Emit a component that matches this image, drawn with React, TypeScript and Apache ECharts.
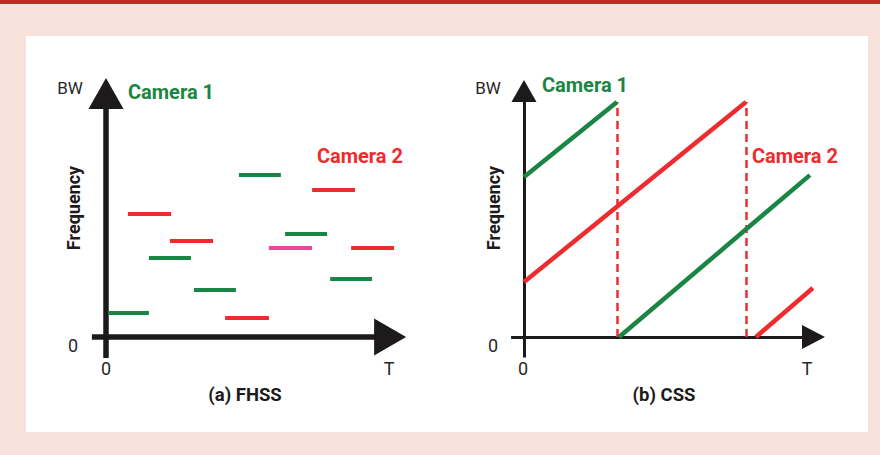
import React, { useEffect, useRef } from "react";
import * as echarts from "echarts";

// FHSS hop segments: [start, end, frequency]
const fhssCamera1 = [
  [0.07, 1.43, 0.93],
  [1.43, 2.83, 3.05],
  [2.93, 4.33, 1.81],
  [4.43, 5.83, 6.25],
  [5.97, 7.37, 3.98],
  [7.47, 8.87, 2.24],
];
const fhssCamera2 = [
  [0.73, 2.17, 4.75],
  [2.13, 3.57, 3.71],
  [3.97, 5.43, 0.73],
  [5.43, 6.87, 3.44],
  [6.87, 8.3, 5.68],
  [8.17, 9.6, 3.44],
];
const fhssCollision = [3]; // index of Camera 2 hop that overlaps (pink)

// CSS chirps: [x0, y0, x1, y1]
const cssCamera1 = [
  [0, 6.23, 3.1, 9.14],
  [3.17, 0, 9.53, 6.3],
];
const cssCamera2 = [
  [0, 2.14, 7.4, 9.14],
  [7.73, 0, 9.63, 1.91],
];
const cssBoundaries = [3.1, 7.4];
const cssTop = 9.14;

const GREEN = "#1b8544";
const RED = "#ee2b2e";
const PINK = "#e8479a";
const INK = "#1c1a1a";
const FONT = "Roboto";

export default function App() {
  const ref = useRef<HTMLDivElement>(null);
  useEffect(() => {
    if (!ref.current) return;
    const chart = echarts.init(ref.current, null, { renderer: "svg" });

    const seg = (s: number[], color: string, w: number) => ({
      coords: [
        [s[0], s[2]],
        [s[1], s[2]],
      ],
      lineStyle: { color, width: w, opacity: 1 },
    });
    const chirp = (s: number[], color: string) => ({
      coords: [
        [s[0], s[1]],
        [s[2], s[3]],
      ],
      lineStyle: { color, width: 4.5, opacity: 1 },
    });

    const text = (t: string, x: number, y: number, opts: any = {}) => ({
      type: "text",
      x,
      y,
      rotation: opts.rotation || 0,
      style: {
        text: t,
        fill: opts.color || "#2a2627",
        font: `${opts.weight || 400} ${opts.size || 17}px ${FONT}`,
        textAlign: opts.align || "center",
        textVerticalAlign: "middle",
      },
    });

    chart.setOption({
      animation: false,
      backgroundColor: "#f6e2da",
      grid: [
        { left: 76, top: 78, width: 330, height: 284.9 },
        { left: 494, top: 80, width: 330, height: 295.6 },
      ],
      xAxis: [
        { type: "value", gridIndex: 0, min: -1, max: 10, show: false },
        { type: "value", gridIndex: 1, min: -1, max: 10, show: false },
      ],
      yAxis: [
        { type: "value", gridIndex: 0, min: -1, max: 10, show: false },
        { type: "value", gridIndex: 1, min: -1.5, max: 10, show: false },
      ],
      graphic: [
        { type: "rect", shape: { x: 0, y: 0, width: 880, height: 4 }, style: { fill: "#c42a24" }, z: -10 },
        { type: "rect", shape: { x: 26, y: 36, width: 842, height: 396 }, style: { fill: "#ffffff" }, z: -10 },
        // left panel labels
        text("BW", 70, 88),
        text("0", 73, 345, { size: 18 }),
        text("0", 106, 368, { size: 18 }),
        text("T", 389, 368, { size: 18 }),
        text("Frequency", 73, 208, { rotation: Math.PI / 2, weight: 700, size: 18, color: INK }),
        text("Camera 1", 128, 92, { align: "left", weight: 700, size: 20, color: GREEN }),
        text("Camera 2", 403, 156, { align: "right", weight: 700, size: 20, color: RED }),
        text("(a) FHSS", 245, 395, { weight: 700, size: 18.5, color: INK }),
        // right panel labels
        text("BW", 488, 88),
        text("0", 493, 345, { size: 18 }),
        text("0", 523, 368, { size: 18 }),
        text("T", 807, 368, { size: 18 }),
        text("Frequency", 493, 208, { rotation: Math.PI / 2, weight: 700, size: 18, color: INK }),
        text("Camera 1", 542, 85, { align: "left", weight: 700, size: 20, color: GREEN }),
        text("Camera 2", 838, 156, { align: "right", weight: 700, size: 20, color: RED }),
        text("(b) CSS", 664, 395, { weight: 700, size: 18.5, color: INK }),
      ],
      series: [
        // left axes
        {
          type: "lines",
          coordinateSystem: "cartesian2d",
          xAxisIndex: 0,
          yAxisIndex: 0,
          silent: true,
          data: [
            { coords: [[0, -0.81], [0, 9.0]], lineStyle: { color: INK, width: 5.5, opacity: 1 } },
            { coords: [[-0.47, 0], [9.0, 0]], lineStyle: { color: INK, width: 5.5, opacity: 1 } },
          ],
        },
        {
          type: "scatter",
          xAxisIndex: 0,
          yAxisIndex: 0,
          silent: true,
          symbol: "triangle",
          itemStyle: { color: INK, opacity: 1 },
          data: [
            { value: [0, 9.4], symbolSize: [35, 31] },
            { value: [9.47, 0], symbolSize: [37, 32], symbolRotate: -90 },
          ],
        },
        // FHSS hops
        {
          type: "lines",
          coordinateSystem: "cartesian2d",
          xAxisIndex: 0,
          yAxisIndex: 0,
          silent: true,
          data: [
            ...fhssCamera1.map((s) => seg(s, GREEN, 4)),
            ...fhssCamera2.map((s, i) => seg(s, fhssCollision.includes(i) ? PINK : RED, 4)),
          ],
        },
        // right axes
        {
          type: "lines",
          coordinateSystem: "cartesian2d",
          xAxisIndex: 1,
          yAxisIndex: 1,
          silent: true,
          data: [
            { coords: [[0, -0.8], [0, 9.2]], lineStyle: { color: INK, width: 3, opacity: 1 } },
            { coords: [[-0.43, 0], [9.4, 0]], lineStyle: { color: INK, width: 3, opacity: 1 } },
          ],
        },
        {
          type: "scatter",
          xAxisIndex: 1,
          yAxisIndex: 1,
          silent: true,
          symbol: "triangle",
          itemStyle: { color: INK, opacity: 1 },
          data: [
            { value: [0, 9.57], symbolSize: [25, 22] },
            { value: [9.65, 0], symbolSize: [24, 23], symbolRotate: -90 },
          ],
        },
        // CSS boundaries
        {
          type: "lines",
          coordinateSystem: "cartesian2d",
          xAxisIndex: 1,
          yAxisIndex: 1,
          silent: true,
          data: cssBoundaries.map((x) => ({
            coords: [
              [x, 0],
              [x, cssTop],
            ],
            lineStyle: { color: RED, width: 2.5, type: [8, 5], opacity: 1 },
          })),
        },
        // CSS chirps
        {
          type: "lines",
          coordinateSystem: "cartesian2d",
          xAxisIndex: 1,
          yAxisIndex: 1,
          silent: true,
          data: [...cssCamera2.map((s) => chirp(s, RED)), ...cssCamera1.map((s) => chirp(s, GREEN))],
        },
      ],
    });
    return () => chart.dispose();
  }, []);
  return (
    <div
      ref={ref}
      style={{ position: "fixed", left: 0, top: 0, width: 880, height: 455 }}
    />
  );
}
